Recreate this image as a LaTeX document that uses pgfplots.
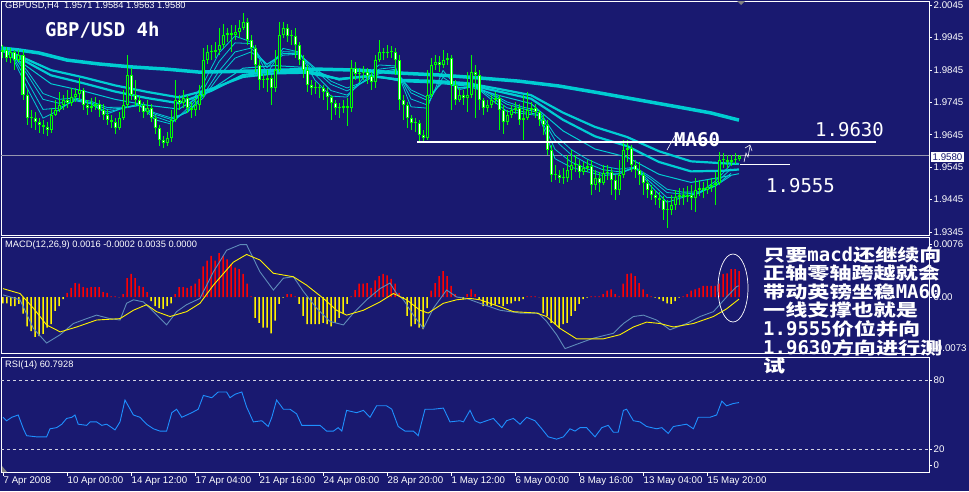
\documentclass[border=0pt]{standalone}
\usepackage{fontspec}
\usepackage{graphicx}
\usepackage{pgfplots}
\usepackage{pgfplotstable}
\pgfplotsset{compat=1.18}
\setmainfont{Liberation Sans}
\newfontfamily\mono{DejaVu Sans Mono}
\newfontfamily\cjk{Noto Sans CJK SC}
\newcommand\lab{\fontsize{9.7}{11}\selectfont}
\newcommand\hdr{\fontsize{9.3}{11}\selectfont}
\newcommand\cj[1]{\scalebox{1.3}[1]{\cjk\bfseries\fontsize{17}{18}\selectfont #1}}
\newcommand\ml[1]{{\mono\bfseries\fontsize{19}{20}\selectfont #1}}
\newcommand\mr[1]{{\mono\fontsize{19}{20}\selectfont #1}}

\definecolor{bg}{RGB}{25,25,112}
\definecolor{candle}{RGB}{0,255,0}
\definecolor{ma}{RGB}{0,205,210}
\definecolor{macdblue}{RGB}{95,140,185}
\definecolor{rsiblue}{RGB}{30,144,255}
\definecolor{pricegrey}{RGB}{150,150,175}

\pgfplotsset{
  panel/.style={
    scale only axis, anchor=north west, width=928pt,
    xmin=-0.5, xmax=231.5,
    axis line style={white, line width=0.8pt},
    xtick=\empty,
    ytick pos=right, yticklabel pos=right,
    tick align=outside, major tick length=3pt,
    tick style={white, line width=0.6pt},
    yticklabel style={font=\lab, text=white, inner xsep=1.5pt},
    scaled y ticks=false,
  },
  wick/.style={forget plot, draw=none, mark=none,
    error bars/.cd, y dir=plus, y explicit, error mark=none,
    error bar style={draw=candle, line width=1pt}},
}

% GBPUSD H4 candles: bar index, open, high, low, close
\pgfplotstableread{
i O H L C
0 1.9900 1.9921 1.9882 1.9906
1 1.9906 1.9915 1.9869 1.9882
2 1.9882 1.9912 1.9866 1.9900
3 1.9900 1.9906 1.9844 1.9875
4 1.9875 1.9906 1.9869 1.9891
5 1.9891 1.9906 1.9752 1.9767
6 1.9767 1.9783 1.9675 1.9697
7 1.9697 1.9721 1.9666 1.9697
8 1.9697 1.9715 1.9660 1.9684
9 1.9684 1.9697 1.9651 1.9675
10 1.9675 1.9690 1.9648 1.9669
11 1.9669 1.9684 1.9641 1.9660
12 1.9660 1.9727 1.9651 1.9706
13 1.9706 1.9752 1.9703 1.9721
14 1.9721 1.9777 1.9715 1.9737
15 1.9737 1.9767 1.9721 1.9752
16 1.9752 1.9783 1.9728 1.9743
17 1.9743 1.9789 1.9734 1.9761
18 1.9761 1.9789 1.9746 1.9770
19 1.9770 1.9820 1.9752 1.9783
20 1.9783 1.9789 1.9721 1.9737
21 1.9737 1.9752 1.9706 1.9728
22 1.9728 1.9758 1.9715 1.9734
23 1.9734 1.9761 1.9721 1.9740
24 1.9740 1.9752 1.9700 1.9721
25 1.9721 1.9740 1.9690 1.9706
26 1.9706 1.9721 1.9675 1.9690
27 1.9690 1.9706 1.9666 1.9684
28 1.9684 1.9697 1.9648 1.9666
29 1.9666 1.9715 1.9660 1.9697
30 1.9697 1.9783 1.9690 1.9737
31 1.9737 1.9891 1.9728 1.9829
32 1.9829 1.9850 1.9752 1.9767
33 1.9767 1.9814 1.9734 1.9752
34 1.9752 1.9764 1.9715 1.9737
35 1.9737 1.9746 1.9697 1.9715
36 1.9715 1.9752 1.9706 1.9728
37 1.9728 1.9740 1.9684 1.9697
38 1.9697 1.9706 1.9648 1.9666
39 1.9666 1.9675 1.9610 1.9629
40 1.9629 1.9641 1.9604 1.9620
41 1.9620 1.9654 1.9610 1.9635
42 1.9635 1.9721 1.9623 1.9690
43 1.9690 1.9814 1.9684 1.9752
44 1.9752 1.9767 1.9721 1.9743
45 1.9743 1.9783 1.9728 1.9758
46 1.9758 1.9767 1.9712 1.9728
47 1.9728 1.9746 1.9697 1.9721
48 1.9721 1.9758 1.9703 1.9737
49 1.9737 1.9798 1.9721 1.9767
50 1.9767 1.9912 1.9758 1.9875
51 1.9875 1.9921 1.9863 1.9900
52 1.9900 1.9921 1.9875 1.9900
53 1.9900 1.9931 1.9882 1.9906
54 1.9906 1.9974 1.9891 1.9921
55 1.9921 1.9986 1.9912 1.9952
56 1.9952 1.9974 1.9931 1.9958
57 1.9958 1.9983 1.9900 1.9952
58 1.9952 1.9983 1.9937 1.9961
59 1.9961 1.9998 1.9943 1.9974
60 1.9974 2.0020 1.9968 1.9992
61 1.9992 2.0005 1.9921 1.9937
62 1.9937 1.9952 1.9875 1.9912
63 1.9912 1.9921 1.9838 1.9860
64 1.9860 1.9875 1.9783 1.9814
65 1.9814 1.9832 1.9789 1.9814
66 1.9814 1.9844 1.9777 1.9820
67 1.9820 1.9829 1.9737 1.9789
68 1.9789 1.9906 1.9777 1.9844
69 1.9844 1.9992 1.9838 1.9952
70 1.9952 1.9992 1.9943 1.9974
71 1.9974 1.9986 1.9931 1.9949
72 1.9949 1.9968 1.9921 1.9949
73 1.9949 1.9974 1.9882 1.9921
74 1.9921 1.9931 1.9860 1.9875
75 1.9875 1.9891 1.9820 1.9844
76 1.9844 1.9860 1.9777 1.9798
77 1.9798 1.9814 1.9767 1.9789
78 1.9789 1.9808 1.9770 1.9789
79 1.9789 1.9801 1.9758 1.9789
80 1.9789 1.9798 1.9752 1.9777
81 1.9777 1.9789 1.9721 1.9761
82 1.9761 1.9767 1.9690 1.9743
83 1.9743 1.9752 1.9706 1.9728
84 1.9728 1.9743 1.9697 1.9728
85 1.9728 1.9752 1.9712 1.9734
86 1.9734 1.9758 1.9672 1.9728
87 1.9728 1.9875 1.9715 1.9850
88 1.9850 1.9869 1.9814 1.9832
89 1.9832 1.9850 1.9808 1.9835
90 1.9835 1.9857 1.9814 1.9838
91 1.9838 1.9850 1.9801 1.9826
92 1.9826 1.9838 1.9783 1.9808
93 1.9808 1.9891 1.9789 1.9875
94 1.9875 1.9937 1.9869 1.9900
95 1.9900 1.9912 1.9875 1.9897
96 1.9897 1.9921 1.9882 1.9900
97 1.9900 1.9918 1.9882 1.9900
98 1.9900 1.9912 1.9829 1.9875
99 1.9875 1.9891 1.9721 1.9752
100 1.9752 1.9767 1.9690 1.9737
101 1.9737 1.9746 1.9666 1.9697
102 1.9697 1.9706 1.9660 1.9681
103 1.9681 1.9697 1.9654 1.9681
104 1.9681 1.9690 1.9626 1.9644
105 1.9644 1.9660 1.9620 1.9635
106 1.9635 1.9844 1.9629 1.9767
107 1.9767 1.9882 1.9758 1.9860
108 1.9860 1.9891 1.9844 1.9869
109 1.9869 1.9888 1.9838 1.9860
110 1.9860 1.9906 1.9850 1.9875
111 1.9875 1.9897 1.9860 1.9882
112 1.9882 1.9891 1.9721 1.9798
113 1.9798 1.9814 1.9737 1.9752
114 1.9752 1.9789 1.9746 1.9767
115 1.9767 1.9783 1.9737 1.9758
116 1.9758 1.9838 1.9715 1.9767
117 1.9767 1.9891 1.9758 1.9838
118 1.9838 1.9860 1.9697 1.9829
119 1.9829 1.9844 1.9721 1.9752
120 1.9752 1.9758 1.9706 1.9728
121 1.9728 1.9752 1.9715 1.9737
122 1.9737 1.9767 1.9728 1.9752
123 1.9752 1.9777 1.9740 1.9758
124 1.9758 1.9767 1.9660 1.9721
125 1.9721 1.9737 1.9648 1.9684
126 1.9684 1.9721 1.9675 1.9706
127 1.9706 1.9737 1.9697 1.9721
128 1.9721 1.9746 1.9709 1.9728
129 1.9728 1.9740 1.9675 1.9690
130 1.9690 1.9767 1.9629 1.9697
131 1.9697 1.9777 1.9690 1.9721
132 1.9721 1.9746 1.9706 1.9728
133 1.9728 1.9740 1.9697 1.9715
134 1.9715 1.9721 1.9672 1.9690
135 1.9690 1.9706 1.9644 1.9675
136 1.9675 1.9690 1.9583 1.9598
137 1.9598 1.9613 1.9500 1.9521
138 1.9521 1.9552 1.9506 1.9521
139 1.9521 1.9536 1.9497 1.9512
140 1.9512 1.9542 1.9493 1.9512
141 1.9512 1.9583 1.9500 1.9536
142 1.9536 1.9598 1.9506 1.9552
143 1.9552 1.9583 1.9530 1.9552
144 1.9552 1.9567 1.9512 1.9530
145 1.9530 1.9561 1.9521 1.9542
146 1.9542 1.9567 1.9530 1.9549
147 1.9549 1.9567 1.9459 1.9490
148 1.9490 1.9536 1.9475 1.9512
149 1.9512 1.9530 1.9469 1.9497
150 1.9497 1.9552 1.9490 1.9527
151 1.9527 1.9552 1.9506 1.9530
152 1.9530 1.9542 1.9459 1.9506
153 1.9506 1.9521 1.9444 1.9475
154 1.9475 1.9567 1.9459 1.9521
155 1.9521 1.9629 1.9512 1.9598
156 1.9598 1.9629 1.9561 1.9604
157 1.9604 1.9613 1.9530 1.9552
158 1.9552 1.9567 1.9512 1.9536
159 1.9536 1.9561 1.9490 1.9521
160 1.9521 1.9530 1.9459 1.9497
161 1.9497 1.9506 1.9450 1.9475
162 1.9475 1.9490 1.9444 1.9459
163 1.9459 1.9475 1.9429 1.9450
164 1.9450 1.9469 1.9420 1.9444
165 1.9444 1.9456 1.9382 1.9413
166 1.9413 1.9444 1.9358 1.9413
167 1.9413 1.9459 1.9398 1.9429
168 1.9429 1.9475 1.9413 1.9453
169 1.9453 1.9481 1.9429 1.9459
170 1.9459 1.9481 1.9429 1.9453
171 1.9453 1.9487 1.9438 1.9459
172 1.9459 1.9490 1.9413 1.9450
173 1.9450 1.9512 1.9407 1.9475
174 1.9475 1.9506 1.9456 1.9481
175 1.9481 1.9500 1.9450 1.9475
176 1.9475 1.9506 1.9462 1.9484
177 1.9484 1.9512 1.9469 1.9490
178 1.9490 1.9530 1.9429 1.9497
179 1.9497 1.9592 1.9490 1.9567
180 1.9567 1.9589 1.9542 1.9567
181 1.9567 1.9583 1.9542 1.9561
182 1.9561 1.9583 1.9549 1.9567
183 1.9567 1.9589 1.9555 1.9571
184 1.9571 1.9584 1.9563 1.9580
}\candles

% MACD histogram per bar
\pgfplotstableread{
i h
0 -0.0009
1 -0.0009
2 -0.0013
3 -0.0013
4 -0.0010
5 -0.0024
6 -0.0042
7 -0.0049
8 -0.0057
9 -0.0056
10 -0.0053
11 -0.0044
12 -0.0039
13 -0.0020
14 -0.0013
15 -0.0003
16 0.0006
17 0.0013
18 0.0020
19 0.0019
20 0.0014
21 0.0013
22 0.0014
23 0.0014
24 0.0014
25 0.0007
26 0.0006
27 0.0001
28 0.0001
29 0
30 0.0004
31 0.0027
32 0.0033
33 0.0027
34 0.0016
35 0.0014
36 0.0007
37 -0.0006
38 -0.0013
39 -0.0016
40 -0.0017
41 -0.0013
42 -0.0009
43 0.0004
44 0.0014
45 0.0014
46 0.0013
47 0.0016
48 0.0019
49 0.0026
50 0.0044
51 0.0052
52 0.0059
53 0.0052
54 0.0063
55 0.0059
56 0.0054
57 0.0047
58 0.0042
59 0.0040
60 0.0033
61 0.0019
62 0.0001
63 -0.0030
64 -0.0037
65 -0.0044
66 -0.0044
67 -0.0052
68 -0.0034
69 -0.0010
70 -0.0001
71 0.0004
72 0.0004
73 0.0001
74 -0.0010
75 -0.0027
76 -0.0039
77 -0.0039
78 -0.0039
79 -0.0039
80 -0.0037
81 -0.0039
82 -0.0042
83 -0.0037
84 -0.0030
85 -0.0023
86 -0.0010
87 0.0001
88 0.0010
89 0.0019
90 0.0019
91 0.0020
92 0.0013
93 0.0024
94 0.0030
95 0.0033
96 0.0031
97 0.0026
98 0.0019
99 0.0006
100 -0.0003
101 -0.0027
102 -0.0042
103 -0.0039
104 -0.0044
105 -0.0046
106 -0.0016
107 0.0009
108 0.0020
109 0.0030
110 0.0037
111 0.0030
112 0.0016
113 0.0004
114 -0.0001
115 -0.0003
116 0.0004
117 0.0011
118 0.0004
119 -0.0003
120 -0.0013
121 -0.0013
122 -0.0013
123 -0.0011
124 -0.0010
125 -0.0013
126 -0.0010
127 -0.0009
128 -0.0006
129 -0.0006
130 -0.0003
131 0.0001
132 0.0001
133 0.0001
134 0
135 -0.0023
136 -0.0027
137 -0.0037
138 -0.0039
139 -0.0044
140 -0.0039
141 -0.0037
142 -0.0027
143 -0.0020
144 -0.0010
145 -0.0003
146 -0.0001
147 0.0001
148 0.0001
149 0.0001
150 0.0004
151 0.0009
152 0.0011
153 0.0004
154 0.0001
155 0.0019
156 0.0033
157 0.0034
158 0.0030
159 0.0020
160 0.0011
161 0.0004
162 0.0001
163 -0.0001
164 -0.0003
165 -0.0006
166 -0.0009
167 -0.0010
168 -0.0006
169 -0.0001
170 0.0001
171 0.0004
172 0.0009
173 0.0011
174 0.0013
175 0.0016
176 0.0016
177 0.0016
178 0.0016
179 0.0019
180 0.0033
181 0.0034
182 0.0040
183 0.0040
184 0.0037
}\hist

\begin{document}
\begin{tikzpicture}[x=1pt,y=1pt]
\fill[bg] (0,0) rectangle (969,-491);
\useasboundingbox (0,0) rectangle (969,-491);

% ---------------- price panel ----------------
\begin{axis}[panel, at={(1pt,-1pt)}, height=234pt,
  ymin=1.9336, ymax=2.0057,
  ytick={1.9345,1.9445,1.9545,1.9645,1.9745,1.9845,1.9945,2.0045},
  yticklabels={1.9345,1.9445,1.9545,1.9645,1.9745,1.9845,1.9945,2.0045}]
\draw[pricegrey, line width=0.8pt] (axis cs:-0.5,1.9580) -- (axis cs:231.5,1.9580);
% slow average
\addplot[ma, line width=3.5pt] coordinates {(-0.5,1.9912) (4,1.9906) (9,1.9897) (16,1.9875) (24,1.9863) (32,1.9854) (41,1.9847) (49,1.9838) (62,1.9841) (79,1.9847) (89,1.9844) (99,1.9835) (109,1.9829) (119,1.9820) (129,1.9810) (139,1.9795) (149,1.9774) (159,1.9752) (169,1.9730) (177,1.9712) (184,1.9690)};
% long group
\addplot[ma, line width=2.2pt] coordinates {(-0.5,1.9906) (4,1.9888) (12,1.9844) (20,1.9822) (28,1.9797) (36,1.9777) (44,1.9760) (52,1.9786) (60,1.9823) (68,1.9834) (76,1.9836) (84,1.9817) (92,1.9825) (100,1.9814) (108,1.9811) (116,1.9804) (124,1.9786) (132,1.9767) (140,1.9713) (148,1.9669) (156,1.9638) (164,1.9594) (172,1.9563) (180,1.9557) (184,1.9555)};
\addplot[ma, line width=2.2pt] coordinates {(-0.5,1.9906) (4,1.9882) (12,1.9828) (20,1.9804) (28,1.9778) (36,1.9758) (44,1.9742) (52,1.9780) (60,1.9829) (68,1.9841) (76,1.9842) (84,1.9816) (92,1.9827) (100,1.9812) (108,1.9808) (116,1.9800) (124,1.9778) (132,1.9756) (140,1.9691) (148,1.9640) (156,1.9610) (164,1.9561) (172,1.9532) (180,1.9534) (184,1.9538)};
\addplot[ma, line width=1pt] coordinates {(-0.5,1.9906) (4,1.9873) (12,1.9802) (20,1.9780) (28,1.9754) (36,1.9736) (44,1.9724) (52,1.9784) (60,1.9850) (68,1.9858) (76,1.9852) (84,1.9813) (92,1.9829) (100,1.9808) (108,1.9804) (116,1.9795) (124,1.9766) (132,1.9741) (140,1.9657) (148,1.9601) (156,1.9576) (164,1.9523) (172,1.9498) (180,1.9515) (184,1.9525)};
% short group
\addplot[ma, line width=0.8pt] coordinates {(-0.5,1.9906) (2,1.9900) (6,1.9843) (10,1.9772) (14,1.9754) (18,1.9758) (22,1.9748) (26,1.9729) (30,1.9730) (34,1.9735) (38,1.9712) (42,1.9697) (46,1.9713) (50,1.9758) (54,1.9825) (58,1.9881) (62,1.9900) (66,1.9862) (70,1.9890) (74,1.9893) (78,1.9851) (82,1.9810) (86,1.9789) (90,1.9807) (94,1.9833) (98,1.9843) (102,1.9783) (106,1.9760) (110,1.9806) (114,1.9791) (118,1.9793) (122,1.9773) (126,1.9746) (130,1.9730) (134,1.9719) (138,1.9644) (142,1.9600) (146,1.9570) (150,1.9548) (154,1.9539) (158,1.9545) (162,1.9514) (166,1.9477) (170,1.9468) (174,1.9469) (178,1.9486) (182,1.9519)};
\addplot[ma, line width=0.8pt] coordinates {(-0.5,1.9906) (2,1.9899) (6,1.9832) (10,1.9754) (14,1.9742) (18,1.9753) (22,1.9744) (26,1.9723) (30,1.9727) (34,1.9735) (38,1.9708) (42,1.9692) (46,1.9714) (50,1.9766) (54,1.9841) (58,1.9900) (62,1.9912) (66,1.9862) (70,1.9895) (74,1.9896) (78,1.9845) (82,1.9800) (86,1.9780) (90,1.9806) (94,1.9837) (98,1.9847) (102,1.9774) (106,1.9751) (110,1.9810) (114,1.9790) (118,1.9793) (122,1.9769) (126,1.9739) (130,1.9725) (134,1.9713) (138,1.9628) (142,1.9584) (146,1.9557) (150,1.9537) (154,1.9531) (158,1.9542) (162,1.9507) (166,1.9467) (170,1.9462) (174,1.9466) (178,1.9487) (182,1.9526)};
\addplot[ma, line width=0.8pt] coordinates {(-0.5,1.9905) (2,1.9897) (6,1.9811) (10,1.9723) (14,1.9727) (18,1.9750) (22,1.9740) (26,1.9715) (30,1.9726) (34,1.9737) (38,1.9701) (42,1.9684) (46,1.9718) (50,1.9782) (54,1.9870) (58,1.9928) (62,1.9926) (66,1.9852) (70,1.9901) (74,1.9899) (78,1.9831) (82,1.9781) (86,1.9767) (90,1.9809) (94,1.9847) (98,1.9853) (102,1.9755) (106,1.9737) (110,1.9822) (114,1.9788) (118,1.9794) (122,1.9762) (126,1.9728) (130,1.9716) (134,1.9707) (138,1.9600) (142,1.9561) (146,1.9540) (150,1.9525) (154,1.9525) (158,1.9543) (162,1.9497) (166,1.9451) (170,1.9454) (174,1.9464) (178,1.9493) (182,1.9540)};
\addplot[ma, line width=0.8pt] coordinates {(-0.5,1.9903) (2,1.9894) (6,1.9789) (10,1.9696) (14,1.9721) (18,1.9755) (22,1.9740) (26,1.9709) (30,1.9727) (34,1.9740) (38,1.9691) (42,1.9678) (46,1.9725) (50,1.9801) (54,1.9897) (58,1.9949) (62,1.9931) (66,1.9833) (70,1.9911) (74,1.9900) (78,1.9813) (82,1.9764) (86,1.9761) (90,1.9819) (94,1.9860) (98,1.9857) (102,1.9731) (106,1.9727) (110,1.9843) (114,1.9784) (118,1.9794) (122,1.9754) (126,1.9717) (130,1.9710) (134,1.9704) (138,1.9571) (142,1.9545) (146,1.9531) (150,1.9519) (154,1.9524) (158,1.9547) (162,1.9486) (166,1.9437) (170,1.9452) (174,1.9466) (178,1.9501) (182,1.9554)};
% candles
\addplot[wick] table[x=i, y=L, y error expr={\thisrow{H}-\thisrow{L}}] {\candles};
\addplot[forget plot, draw=none, mark=none, error bars/.cd, y dir=plus, y explicit, error mark=none,
  error bar style={draw=candle, line width=3pt}]
  table[x=i, y expr={min(\thisrow{O},\thisrow{C})}, y error expr={max(abs(\thisrow{C}-\thisrow{O}),0.0002)}] {\candles};
\addplot[forget plot, draw=none, mark=none, restrict expr to domain={\thisrow{O}-\thisrow{C}}{0.0008:1},
  error bars/.cd, y dir=plus, y explicit, error mark=none, error bar style={draw=white, line width=1pt}]
  table[x=i, y expr={\thisrow{C}+0.0003}, y error expr={\thisrow{O}-\thisrow{C}-0.0006}] {\candles};
\addplot[forget plot, draw=none, mark=none, restrict expr to domain={\thisrow{C}-\thisrow{O}}{0.0008:1},
  error bars/.cd, y dir=plus, y explicit, error mark=none, error bar style={draw=bg, line width=1pt}]
  table[x=i, y expr={\thisrow{O}+0.0003}, y error expr={\thisrow{C}-\thisrow{O}-0.0006}] {\candles};
% level lines
\draw[white, line width=1.4pt] (axis cs:103.5,1.9623) -- (axis cs:218.25,1.9623);
\draw[white, line width=1.4pt] (axis cs:184.25,1.9553) -- (axis cs:196.75,1.9553);
\end{axis}

% ---------------- MACD panel ----------------
\begin{axis}[panel, at={(1pt,-237pt)}, height=116.5pt,
  ymin=-0.0081, ymax=0.0086,
  ytick={-0.0073,0,0.0076}, yticklabels={-0.0073,0.00,0.0076}]
\addplot[ybar, bar width=1.5pt, bar shift=0pt, draw=none, fill=red, restrict y to domain=0:1] table[x=i, y=h] {\hist};
\addplot[ybar, bar width=1.5pt, bar shift=0pt, draw=none, fill=yellow, restrict y to domain=-1:0] table[x=i, y=h] {\hist};
\addplot[macdblue, line width=0.9pt] coordinates {(0,0.0003) (4.25,-0.0004) (7.6,-0.0045) (10.9,-0.0066) (14.3,-0.0054) (17.6,-0.0038) (20.9,-0.0031) (23.4,-0.0026) (26.75,-0.0031) (29.25,-0.0033) (30.9,-0.0009) (32.6,-0.0004) (35.1,-0.0007) (37.6,-0.0021) (40.9,-0.0040) (43.4,-0.0021) (45.9,-0.0011) (49.25,-0.0002) (52.6,0.0036) (55.9,0.0067) (59.25,0.0075) (60.9,0.0075) (64.25,0.0036) (67.6,0.0010) (70.1,0.0027) (72.6,0.0029) (75.1,0.0008) (78.4,-0.0016) (81.75,-0.0035) (85.1,-0.0040) (87.6,-0.0023) (90.9,-0.0004) (94.25,0.0012) (96.75,0.0020) (98.4,0.0005) (100.1,-0.0004) (102.6,-0.0026) (105.1,-0.0045) (107.6,-0.0016) (110.9,0.0010) (113.4,0.0000) (115.9,-0.0002) (119.25,-0.0009) (124.25,-0.0019) (129.25,-0.0023) (133.8,-0.0023) (135.9,-0.0035) (138.4,-0.0054) (140.5,-0.0074) (144.25,-0.0066) (147.6,-0.0059) (152.6,-0.0052) (155.1,-0.0038) (157.6,-0.0028) (160.1,-0.0026) (163.4,-0.0033) (166.75,-0.0047) (170.9,-0.0038) (174.25,-0.0028) (177.6,-0.0021) (180.9,0.0000) (183.4,0.0015) (184,0.0016)};
\addplot[yellow, line width=0.9pt] coordinates {(0,0.0012) (4.25,0.0005) (7.6,-0.0016) (10.9,-0.0040) (14.3,-0.0050) (18.4,-0.0043) (23.4,-0.0033) (29.25,-0.0031) (32.6,-0.0019) (35.9,-0.0011) (38.4,-0.0021) (41.75,-0.0028) (45.9,-0.0021) (49.25,-0.0009) (52.6,0.0017) (57.6,0.0050) (60.9,0.0061) (64.25,0.0053) (67.6,0.0034) (72.6,0.0029) (75.9,0.0017) (80.1,-0.0002) (83.4,-0.0019) (85.9,-0.0026) (90.1,-0.0019) (94.25,-0.0007) (97.6,0.0005) (100.9,-0.0004) (104.25,-0.0019) (106.3,-0.0023) (110.1,-0.0009) (113.4,-0.0004) (116.75,-0.0002) (119.25,-0.0004) (124.25,-0.0014) (127.6,-0.0021) (133.4,-0.0023) (135.9,-0.0028) (139.25,-0.0045) (143.4,-0.0060) (150.1,-0.0060) (154.25,-0.0054) (157.6,-0.0043) (160.9,-0.0036) (164.25,-0.0038) (167.6,-0.0043) (172.6,-0.0038) (177.6,-0.0028) (180.9,-0.0017) (184,-0.0003)};
\end{axis}

% ---------------- RSI panel ----------------
\begin{axis}[panel, at={(1pt,-357pt)}, height=115.5pt,
  ymin=0, ymax=100.4,
  ytick={6,20,80}, yticklabels={0,20,80},
  xtick={0,16,32,48,64,80,96,112,128,144,160,176}, xtick pos=left,
  xticklabels={7 Apr 2008,10 Apr 00:00,14 Apr 12:00,17 Apr 04:00,21 Apr 16:00,24 Apr 08:00,28 Apr 20:00,1 May 12:00,6 May 00:00,8 May 16:00,13 May 04:00,15 May 20:00},
  xticklabel style={anchor=north west, inner xsep=0.5pt, inner ysep=1pt, font=\lab, text=white}]
\draw[white!80!bg, dash pattern=on 3pt off 3pt, line width=0.8pt] (axis cs:-0.5,80) -- (axis cs:231.5,80);
\draw[white!80!bg, dash pattern=on 3pt off 3pt, line width=0.8pt] (axis cs:-0.5,20) -- (axis cs:231.5,20);
\addplot[rsiblue, line width=0.9pt] coordinates {(0,48) (0.9,45) (2.2,48) (3.8,50) (5.1,38) (5.9,32) (8.4,31) (10.9,31) (11.75,38) (13.4,39) (14.7,42) (15.9,47) (17.2,48) (18,50) (18.8,42) (20.9,41) (21.75,44) (23.4,44) (24.7,41) (25.9,42) (27.2,39) (28,37) (29.25,44) (30.5,63) (31.3,58) (32.6,50) (34.25,48) (35.9,42) (37.6,38) (39.25,36) (40.9,36) (42.2,52) (43.4,55) (44.7,48) (47.2,52) (48.8,55) (50.1,67) (52.2,65) (53.8,70) (55.9,70) (56.75,65) (58,68) (59.7,70) (60.9,57) (62.6,44) (64.7,45) (66.3,40) (67.2,48) (68.4,63) (70.1,55) (71.75,55) (73.4,51) (74.7,41) (76.75,41) (79.25,41) (80.9,36) (82.6,36) (83.8,39) (84.7,36) (85.9,54) (88.4,52) (90.1,54) (91.75,48) (93.4,58) (95.9,58) (97.2,55) (98.8,40) (100.5,36) (102.6,36) (103.8,32) (105.5,55) (107.6,55) (110.1,56) (111.75,44) (114.25,45) (115.1,44) (116.75,54) (118,45) (119.25,43) (120.9,45) (122.6,47) (124.7,39) (125.9,45) (127.6,47) (129.25,42) (130.9,48) (133,45) (134.7,38) (136.3,31) (138.4,29) (140.1,31) (141.75,38) (143,36) (144.25,39) (145.9,39) (148,31) (149.7,39) (151.3,41) (152.6,35) (153.8,35) (155.1,54) (155.9,55) (157.6,45) (159.25,44) (160.9,40) (163.4,38) (164.7,39) (166.3,34) (167.6,40) (169.25,41) (170.9,42) (172.6,38) (173.8,48) (176.75,48) (178.4,50) (179.7,62) (180.9,58) (182.6,60) (184,60.8)};
\end{axis}

% ---------------- texts and marks ----------------
\node[anchor=north west, inner sep=0, text=white, font=\hdr] at (5,-2) {GBPUSD,H4\ \ 1.9571 1.9584 1.9563 1.9580};
\node[anchor=north west, inner sep=0, text=white, font=\hdr] at (5,-241) {MACD(12,26,9) 0.0016 -0.0002 0.0035 0.0000};
\node[anchor=north west, inner sep=0, text=white, font=\hdr] at (5,-361) {RSI(14) 60.7928};
\fill[gray] (737,-1) -- (745,-1) -- (741,-5) -- cycle;
\fill[gray] (2,-466) -- (2,-472) -- (7,-472) -- cycle;
\node[fill=white, text=bg, font=\lab, inner xsep=1.5pt, inner ysep=1.5pt, anchor=west] at (931,-157) {1.9580};

\node[anchor=base west, inner sep=0, text=white] at (45,-36) {\ml{GBP/USD 4h}};
\node[anchor=base west, inner sep=0, text=white] at (674,-146) {\ml{MA60}};
\node[anchor=base west, inner sep=0, text=white] at (815,-136) {\mr{1.9630}};
\node[anchor=base west, inner sep=0, text=white] at (766,-192) {\mr{1.9555}};
\draw[white, line width=0.6pt] (667,-150) -- (676,-134);
\draw[white, line width=0.6pt] (744,-162) -- (746,-153) -- (748,-157) -- (750,-146);
\draw[white, line width=0.6pt] (745,-148) -- (750,-145) -- (752,-151);
\draw[white, line width=0.7pt] (733,-288) ellipse [x radius=15, y radius=34];

\node[anchor=base west, inner sep=0, text=white] at (763,-261) {\cj{只要}\ml{macd}\cj{还继续向}};
\node[anchor=base west, inner sep=0, text=white] at (763,-279.6) {\cj{正轴零轴跨越就会}};
\node[anchor=base west, inner sep=0, text=white] at (763,-298.2) {\cj{带动英镑坐稳}\ml{MA60}};
\node[anchor=base west, inner sep=0, text=white] at (763,-316.8) {\cj{一线支撑也就是}};
\node[anchor=base west, inner sep=0, text=white] at (763,-335.4) {\ml{1.9555}\cj{价位并向}};
\node[anchor=base west, inner sep=0, text=white] at (763,-354) {\ml{1.9630}\cj{方向进行测}};
\node[anchor=base west, inner sep=0, text=white] at (763,-372.6) {\cj{试}};
\end{tikzpicture}
\end{document}
